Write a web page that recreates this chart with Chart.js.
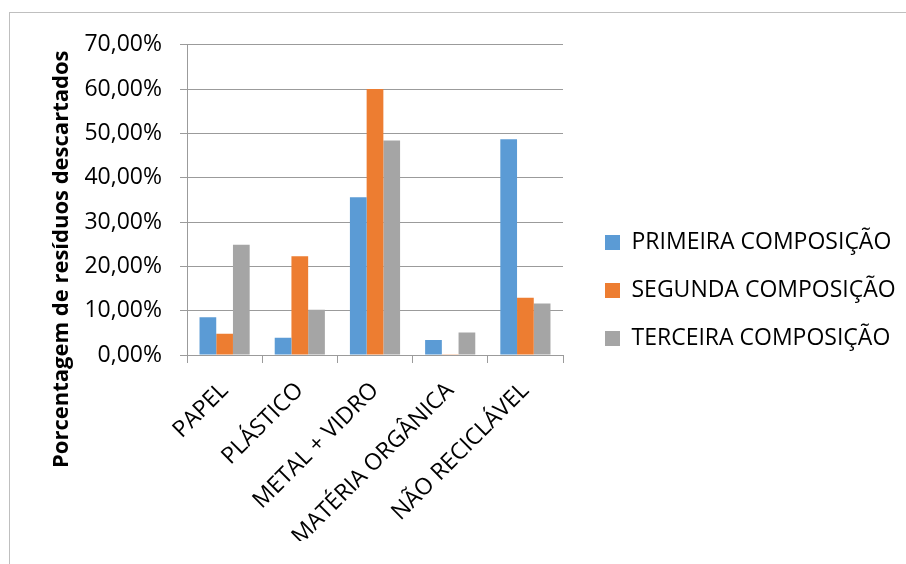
<!DOCTYPE html>
<html>
<head>
<meta charset="utf-8">
<script src="https://cdn.jsdelivr.net/npm/chart.js@4"></script>
<style>
  html, body { margin: 0; padding: 0; background: #fff; width: 906px; height: 564px; overflow: hidden; }
  #moldura { position: absolute; left: 9px; top: 12px; width: 897px; height: 552px;
             border-left: 1px solid #bfbfbf; border-top: 1px solid #bfbfbf; }
  #caixa { position: absolute; left: 10px; top: 13px; width: 896px; height: 551px; }
</style>
</head>
<body>
<div id="moldura"></div>
<div id="caixa"><canvas id="myChart" width="896" height="551"></canvas></div>
<script>
// dados (%)
var categorias = ["PAPEL", "PLÁSTICO", "METAL + VIDRO", "MATÉRIA ORGÂNICA", "NÃO RECICLÁVEL"];
var primeira = [8.5, 3.9, 35.6, 3.4, 48.7];
var segunda = [4.8, 22.3, 60.0, 0.05, 12.9];
var terceira = [24.9, 10.2, 48.4, 5.1, 11.6];
var series = ["PRIMEIRA COMPOSIÇÃO", "SEGUNDA COMPOSIÇÃO", "TERCEIRA COMPOSIÇÃO"];
var yMin = 0, yMax = 70, yPasso = 10;
var tituloEixoY = "Porcentagem de resíduos descartados";

var fonte = '"Open Sans", sans-serif';
var cinza = '#9b9b9b';

// largura da legenda, para a area do grafico acabar no mesmo x do original
var medir = document.createElement('canvas').getContext('2d');
medir.font = '23px ' + fonte;
var textoMax = 0;
series.forEach(function(s) { textoMax = Math.max(textoMax, medir.measureText(s).width); });
var larguraLegenda = 25 + 15 + 11.5 + textoMax + 10;
var padDireita = Math.max(0, 896 - 570 - larguraLegenda);

// titulo do eixo y desenhado à mão (fica deslocado para baixo no original)
var tituloY = {
  id: 'tituloY',
  afterDraw: function(chart) {
    var ctx = chart.ctx;
    ctx.save();
    ctx.translate(58, 455);
    ctx.rotate(-Math.PI / 2);
    ctx.font = 'bold 22px ' + fonte;
    ctx.fillStyle = '#000';
    ctx.textAlign = 'left';
    ctx.textBaseline = 'alphabetic';
    ctx.fillText(tituloEixoY, 0, 0);
    ctx.restore();
  }
};

var ctx = document.getElementById('myChart').getContext('2d');
var myChart = new Chart(ctx, {
  type: 'bar',
  data: {
    labels: categorias,
    datasets: [
      { label: series[0], data: primeira, backgroundColor: '#5b9bd5', yAxisID: 'y' },
      { label: series[1], data: segunda, backgroundColor: '#ed7d31', yAxisID: 'y' },
      { label: series[2], data: terceira, backgroundColor: '#a5a5a5', yAxisID: 'y' }
    ]
  },
  options: {
    responsive: false,
    animation: false,
    layout: { padding: { top: 27, bottom: 23, left: 0, right: padDireita } },
    datasets: { bar: { barPercentage: 1.0, categoryPercentage: 0.667 } },
    plugins: {
      tooltip: { enabled: false },
      legend: {
        position: 'right',
        maxWidth: 600,
        labels: {
          boxWidth: 15, boxHeight: 15, padding: 25,
          textAlign: 'left',
          color: '#000',
          font: { family: fonte, size: 23 }
        }
      }
    },
    scales: {
      x: {
        grid: { display: true, drawOnChartArea: false, drawTicks: true, tickLength: 8, color: cinza, offset: true },
        border: { display: true, color: cinza },
        ticks: {
          autoSkip: false, minRotation: 45, maxRotation: 45, padding: 14,
          color: '#000', font: { family: fonte, size: 23 }
        },
        afterFit: function(s) { s.height = 186; }
      },
      y: {
        min: yMin, max: yMax,
        grid: { color: cinza, tickLength: 7 },
        border: { display: true, color: cinza },
        ticks: {
          stepSize: yPasso, padding: 18,
          color: '#000', font: { family: fonte, size: 23 },
          callback: function(v) { return v.toFixed(2).replace('.', ',') + '%'; }
        },
        afterFit: function(s) { s.width = 177; }
      },
      espaco: {
        type: 'linear', position: 'right', display: true,
        grid: { display: false }, border: { display: false }, ticks: { display: false },
        afterFit: function(s) { s.width = 17; }
      }
    }
  },
  plugins: [tituloY]
});
</script>
</body>
</html>
